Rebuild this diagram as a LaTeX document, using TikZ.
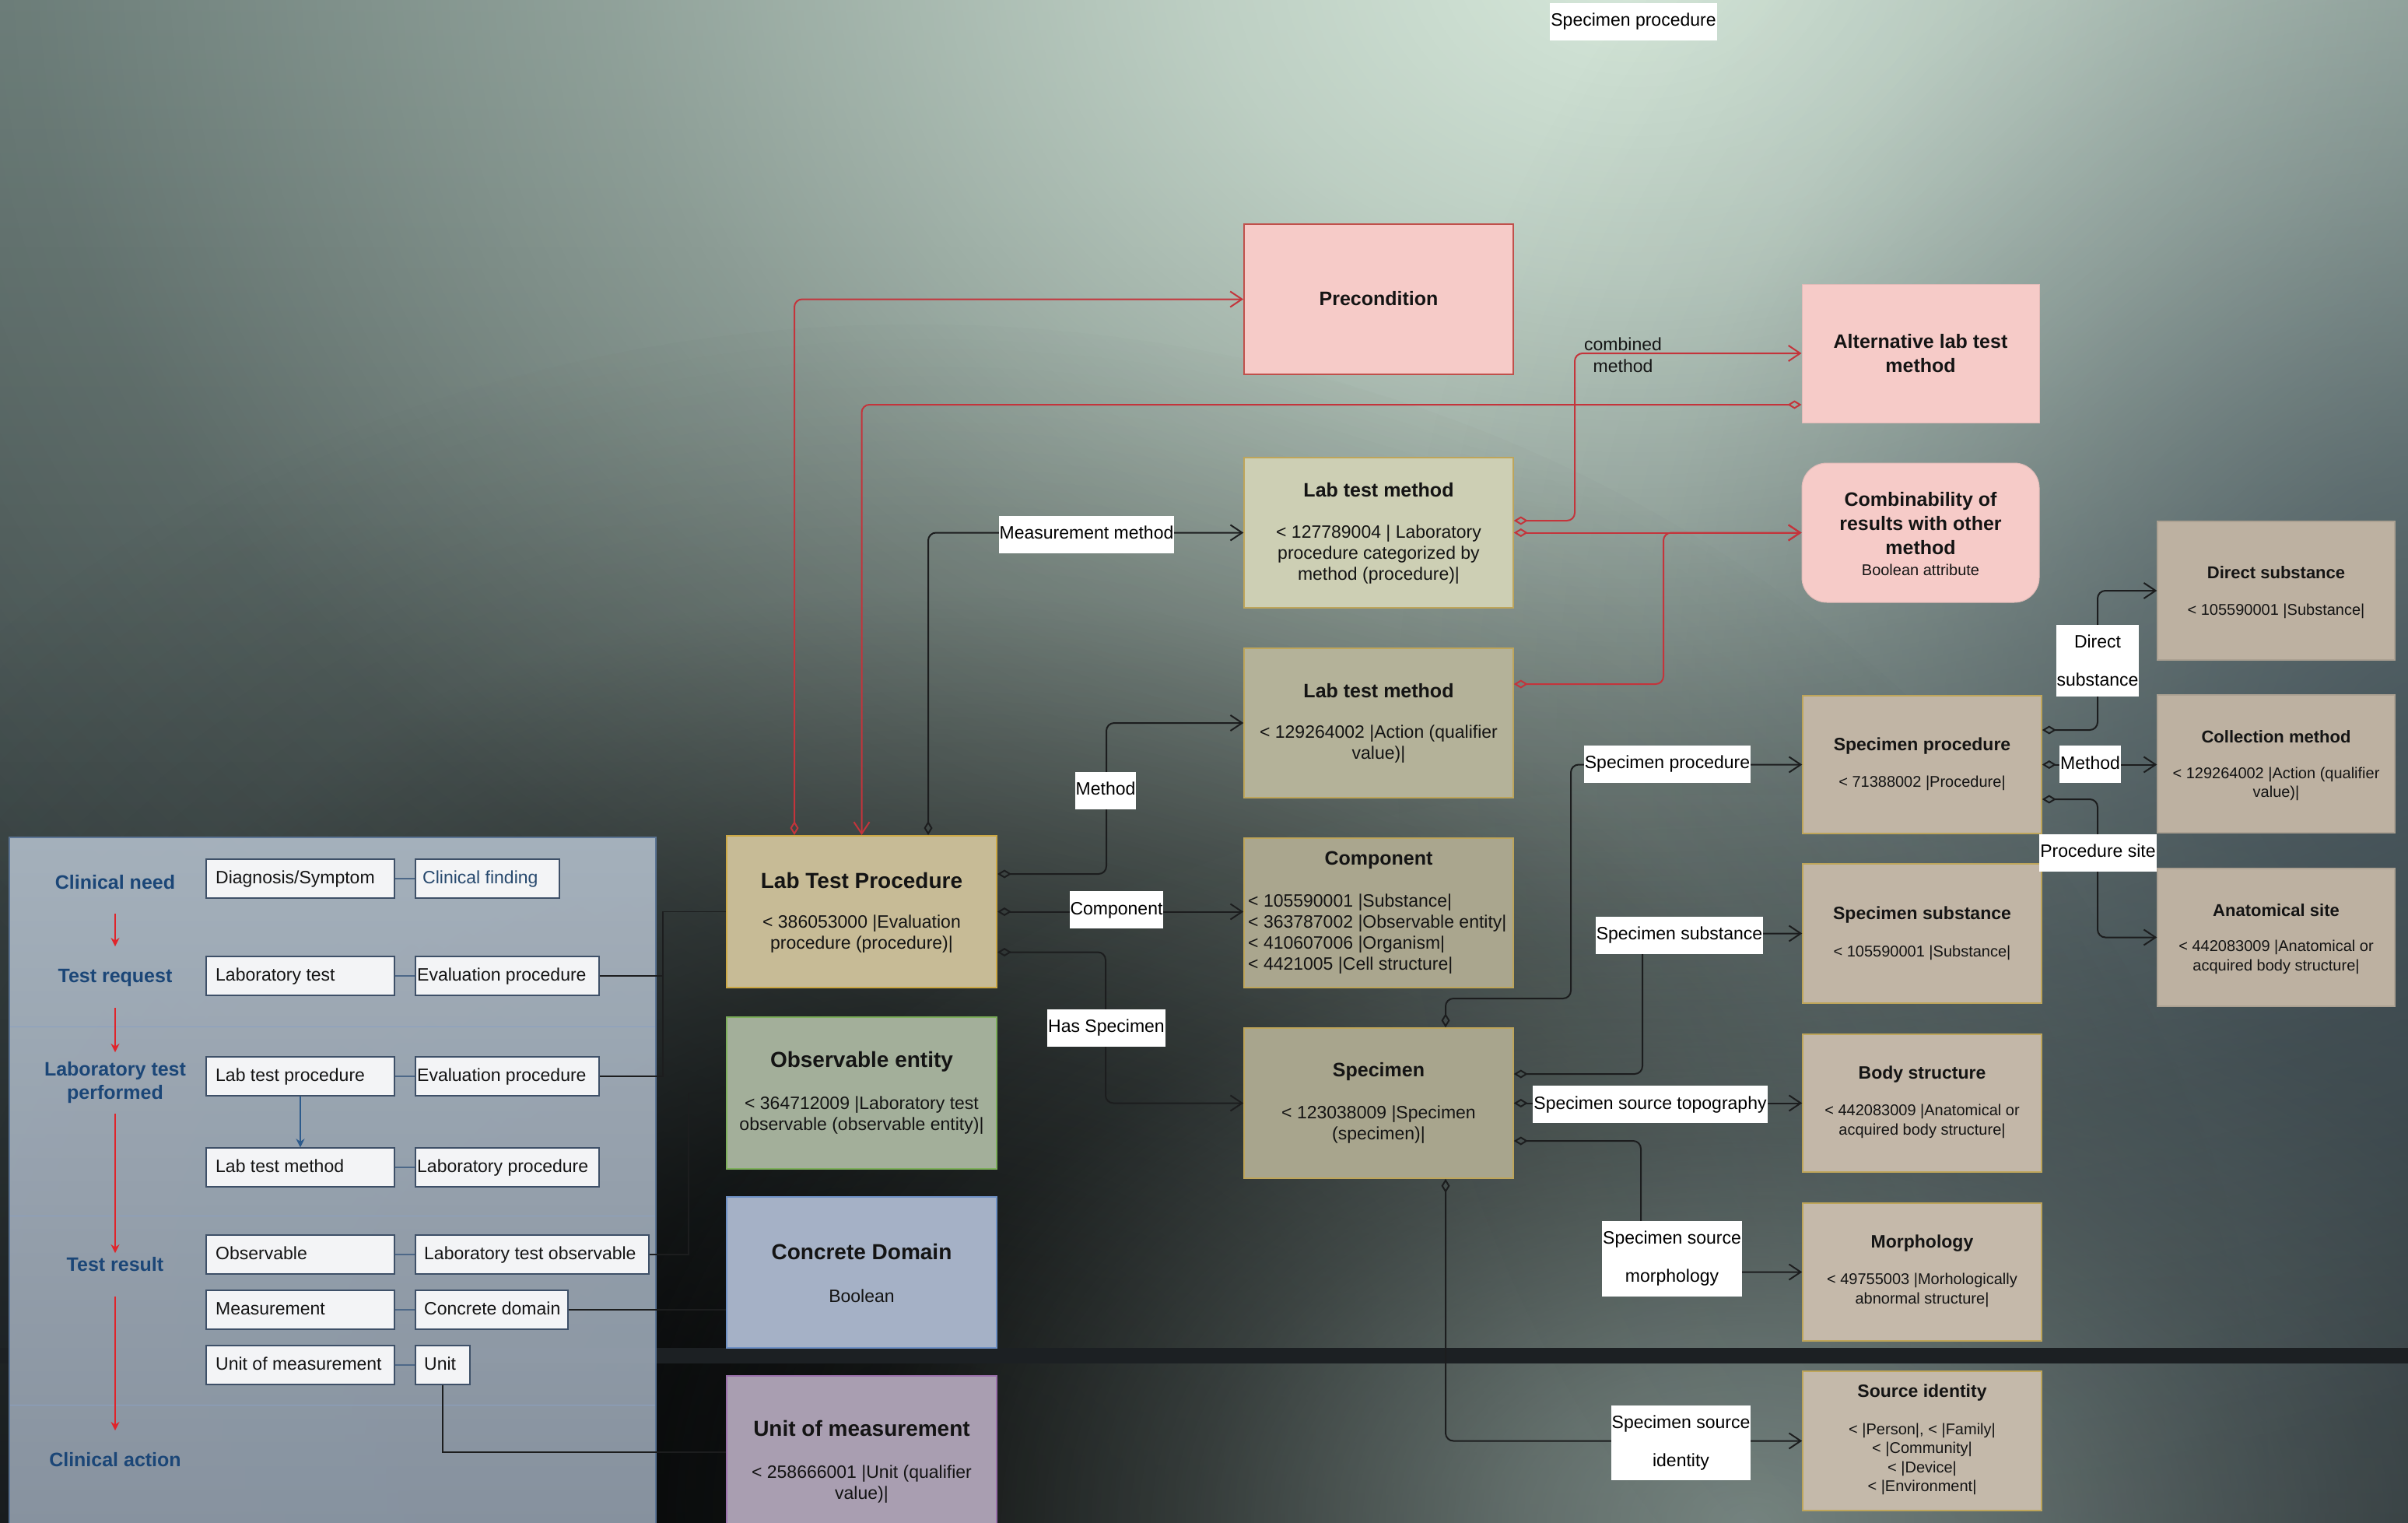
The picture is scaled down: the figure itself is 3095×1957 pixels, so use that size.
\documentclass[tikz,border=0pt]{standalone}
\usepackage{fontspec}
\setmainfont{Liberation Sans}
\usetikzlibrary{arrows.meta,fit,fadings}

% soft radial fade used for the background lighting
\pgfdeclareradialshading{glowshade}{\pgfpointorigin}{color(0bp)=(white); color(5bp)=(white!80!black); color(12bp)=(white!42!black); color(19bp)=(white!12!black); color(25bp)=(black); color(50bp)=(black)}
\pgfdeclarefading{glow}{\pgfuseshading{glowshade}}

\definecolor{bgtop}{HTML}{5F706D}
\definecolor{bgbot}{HTML}{1E2326}
\definecolor{mint}{HTML}{D6E8DA}
\definecolor{sage}{HTML}{8FA09A}
\definecolor{slate}{HTML}{34434F}
\definecolor{bandc}{HTML}{1C2023}
\definecolor{paneltop}{HTML}{AEBAC6}
\definecolor{panelbot}{HTML}{909CAA}
\definecolor{panelline}{HTML}{5B7494}
\definecolor{panelsep}{HTML}{8AA0C0}
\definecolor{lblblue}{HTML}{1B4677}
\definecolor{cfblue}{HTML}{27496E}
\definecolor{sboxfill}{HTML}{F3F4F6}
\definecolor{sboxline}{HTML}{3E5068}
\definecolor{pinc}{HTML}{4D6888}
\definecolor{redarr}{HTML}{E0242A}
\definecolor{navyarr}{HTML}{2D5B8C}
\definecolor{linkc}{HTML}{1C1D1E}
\definecolor{rlinkc}{HTML}{C4343B}
\definecolor{inkc}{HTML}{141414}
\definecolor{ltpfill}{HTML}{C7BB96}
\definecolor{ltpline}{HTML}{CCA845}
\definecolor{obsfill}{HTML}{A3AF9A}
\definecolor{obsline}{HTML}{7DAE5B}
\definecolor{cdfill}{HTML}{A5B1C6}
\definecolor{cdline}{HTML}{6E90C4}
\definecolor{uomfill}{HTML}{A99EB1}
\definecolor{uomline}{HTML}{9A70AA}
\definecolor{pinkfill}{HTML}{F6CBC8}
\definecolor{pinkline}{HTML}{C0504B}
\definecolor{tanline}{HTML}{BEA55A}
\definecolor{ltmAfill}{HTML}{CDCFB4}
\definecolor{ltmBfill}{HTML}{B4B299}
\definecolor{compfill}{HTML}{AAA68E}
\definecolor{specfill}{HTML}{A8A58D}
\definecolor{rcolfill}{HTML}{C1B5A5}
\definecolor{farfill}{HTML}{BDB1A1}
\definecolor{farline}{HTML}{ACA192}

\tikzset{
  lbl/.style={font=\fontsize{25pt}{30pt}\selectfont\bfseries, text=lblblue, align=center, inner sep=0pt},
  sbox/.style={draw=sboxline, fill=sboxfill, line width=1.5pt, inner sep=0pt},
  stext/.style={font=\fontsize{23pt}{27pt}\selectfont, text=inkc, inner sep=0pt, text height=17pt, text depth=5pt},
  ebox/.style={line width=2pt, inner sep=0pt},
  ltpbox/.style={ebox, draw=ltpline, fill=ltpfill},
  obsbox/.style={ebox, draw=obsline, fill=obsfill},
  cdbox/.style={ebox, draw=cdline, fill=cdfill},
  uombox/.style={ebox, draw=uomline, fill=uomfill},
  pinkbox/.style={ebox, draw=pinkline, fill=pinkfill},
  softpink/.style={ebox, draw=pinkfill!92!black, line width=1pt, fill=pinkfill},
  tanbox/.style={ebox, draw=tanline, line width=1.5pt},
  farbox/.style={ebox, draw=farline, line width=1.5pt, fill=farfill},
  ttlL/.style={font=\fontsize{28pt}{33pt}\selectfont\bfseries, text=inkc, inner sep=0pt, align=center},
  ttlM/.style={font=\fontsize{25pt}{31pt}\selectfont\bfseries, text=inkc, inner sep=0pt, align=center},
  ttlS/.style={font=\fontsize{23pt}{28pt}\selectfont\bfseries, text=inkc, inner sep=0pt, align=center},
  ttlXS/.style={font=\fontsize{22pt}{27pt}\selectfont\bfseries, text=inkc, inner sep=0pt, align=center},
  bdyM/.style={font=\fontsize{23pt}{27pt}\selectfont, text=inkc, inner sep=0pt, align=center},
  bdyS/.style={font=\fontsize{20pt}{24.5pt}\selectfont, text=inkc, inner sep=0pt, align=center},
  elbl/.style={fill=white, font=\fontsize{23pt}{27pt}\selectfont, text=black, inner xsep=1pt, inner ysep=13pt, text height=17pt, text depth=5pt},
  elbltwo/.style={fill=white, font=\fontsize{23pt}{49pt}\selectfont, text=black, inner xsep=1pt, inner ysep=13pt, align=center},
  blk/.style={draw=linkc, line width=2pt, rounded corners=10pt, {Diamond[open,length=18pt,width=11pt]}-{Straight Barb[length=15pt,width=20pt]}},
  rlk/.style={draw=rlinkc, line width=2pt, rounded corners=10pt, {Diamond[open,length=18pt,width=11pt]}-{Straight Barb[length=15pt,width=20pt]}},
  plk/.style={draw=linkc, line width=1.8pt},
  pin/.style={draw=pinc, line width=1.5pt},
  redflow/.style={draw=redarr, line width=1.5pt, -{Stealth[length=11pt,width=11pt]}},
  navyflow/.style={draw=navyarr, line width=1.5pt, -{Stealth[length=11pt,width=11pt]}},
}

\begin{document}
\begin{tikzpicture}[x=1pt, y=-1pt]
\useasboundingbox (0,0) rectangle (3095,1957);
\clip (0,0) rectangle (3095,1957);

% ---------- background lighting ----------
\shade[top color=bgtop, bottom color=bgbot] (0,0) rectangle (3095,1957);
\fill[mint, path fading=glow] (2100,-50) ellipse [x radius=2700pt, y radius=2000pt];
\fill[black, opacity=0.95, path fading=glow] (1200,1900) ellipse [x radius=1750pt, y radius=1500pt];
\fill[sage, opacity=0.8, path fading=glow] (2250,1957) ellipse [x radius=1500pt, y radius=1000pt];
\fill[slate, opacity=0.6, path fading=glow] (3095,950) ellipse [x radius=1300pt, y radius=1500pt];
\fill[bandc] (0,1732) rectangle (3095,1752);

% ---------- left swimlane panel ----------
\shade[top color=paneltop, bottom color=panelbot, opacity=0.92] (12,1076) rectangle (843,1990);
\draw[panelline, line width=1.5pt] (12,1990) -- (12,1076) -- (843,1076) -- (843,1990);
\foreach \yy in {1319,1562,1805} \draw[panelsep, line width=1pt] (13,\yy) -- (842,\yy);

\node[lbl] (cneed) at (148,1134) {Clinical need};
\node[lbl] (treq) at (148,1256) {Test request};
\node[lbl] (ltperf) at (148,1391) {Laboratory test\\performed};
\node[lbl] (tres) at (148,1625) {Test result};
\node[lbl] (cact) at (148,1876) {Clinical action};

\draw[redflow] ([yshift=-40pt]cneed.center) -- ([yshift=40pt]treq.center);
\draw[redflow] ([yshift=-39pt]treq.center) -- ([yshift=39pt]ltperf.center);
\draw[redflow] ([yshift=-40pt]ltperf.center) -- ([yshift=15pt]tres.center);
\draw[redflow] ([yshift=-41pt]tres.center) -- ([yshift=38pt]cact.center);

% first column of terms
\node[sbox, fit={(265,1104) (507,1154)}] (diag) {};
\node[sbox, fit={(265,1229) (507,1279)}] (labt) {};
\node[sbox, fit={(265,1358) (507,1408)}] (ltps) {};
\node[sbox, fit={(265,1475) (507,1525)}] (ltms) {};
\node[sbox, fit={(265,1587) (507,1637)}] (obsv) {};
\node[sbox, fit={(265,1658) (507,1708)}] (meas) {};
\node[sbox, fit={(265,1729) (507,1779)}] (uoms) {};
\node[stext, anchor=west] (diag-t) at (277,1129) {Diagnosis/Symptom};
\node[stext, anchor=west] (labt-t) at (277,1254) {Laboratory test};
\node[stext, anchor=west] (ltps-t) at (277,1383) {Lab test procedure};
\node[stext, anchor=west] (ltms-t) at (277,1500) {Lab test method};
\node[stext, anchor=west] (obsv-t) at (277,1612) {Observable};
\node[stext, anchor=west] (meas-t) at (277,1683) {Measurement};
\node[stext, anchor=west] (uoms-t) at (277,1754) {Unit of measurement};

% second column of terms
\node[sbox, fit={(534,1104) (719,1154)}] (cfind) {};
\node[sbox, fit={(534,1229) (770,1279)}] (ev2) {};
\node[sbox, fit={(534,1358) (770,1408)}] (ev3) {};
\node[sbox, fit={(534,1475) (770,1525)}] (labp) {};
\node[sbox, fit={(534,1587) (834,1637)}] (lto) {};
\node[sbox, fit={(534,1658) (730,1708)}] (cdom) {};
\node[sbox, fit={(534,1729) (604,1779)}] (unit) {};
\node[stext, anchor=west, text=cfblue] (cfind-t) at (543,1129) {Clinical finding};
\node[stext, anchor=west] (ev2-t) at (536,1254) {Evaluation procedure};
\node[stext, anchor=west] (ev3-t) at (536,1383) {Evaluation procedure};
\node[stext, anchor=west] (labp-t) at (536,1500) {Laboratory procedure};
\node[stext, anchor=west] (lto-t) at (545,1612) {Laboratory test observable};
\node[stext, anchor=west] (cdom-t) at (545,1683) {Concrete domain};
\node[stext, anchor=west] (unit-t) at (545,1754) {Unit};

\draw[pin] (diag.east) -- (cfind.west);
\draw[pin] (labt.east) -- (ev2.west);
\draw[pin] (ltps.east) -- (ev3.west);
\draw[pin] (ltms.east) -- (labp.west);
\draw[pin] (obsv.east) -- (lto.west);
\draw[pin] (meas.east) -- (cdom.west);
\draw[pin] (uoms.east) -- (unit.west);
\draw[navyflow] (ltps.south) -- (ltms.north);

% ---------- concept boxes ----------
\node[ltpbox, fit={(934,1074) (1281,1269)}] (ltp) {};
\node[obsbox, fit={(934,1307) (1281,1502)}] (obs) {};
\node[cdbox, fit={(934,1538) (1281,1732)}] (cdbx) {};
\node[uombox, fit={(934,1768) (1281,1990)}] (uom) {};

\node[pinkbox, fit={(1599,288) (1945,481)}] (precond) {};
\node[tanbox, fill=ltmAfill, fit={(1599,588) (1945,781)}] (ltm1) {};
\node[tanbox, fill=ltmBfill, fit={(1599,833) (1945,1025)}] (ltm2) {};
\node[tanbox, fill=compfill, fit={(1599,1077) (1945,1269)}] (comp) {};
\node[tanbox, fill=specfill, fit={(1599,1321) (1945,1514)}] (spec) {};

\node[softpink, fit={(2316,365) (2621,543)}] (alt) {};
\node[softpink, rounded corners=32pt, fit={(2316,595) (2621,774)}] (comb) {};
\node[tanbox, fill=rcolfill, fit={(2317,894) (2624,1071)}] (sproc) {};
\node[tanbox, fill=rcolfill, fit={(2317,1110) (2624,1289)}] (ssub) {};
\node[tanbox, fill=rcolfill!97!white, fit={(2317,1329) (2624,1506)}] (bstr) {};
\node[tanbox, fill=rcolfill!94!white, fit={(2317,1546) (2624,1723)}] (morph) {};
\node[tanbox, fill=rcolfill!95!white, fit={(2317,1762) (2624,1941)}] (srcid) {};

\node[farbox, fit={(2773,670) (3078,848)}] (dsub) {};
\node[farbox, fit={(2773,893) (3078,1070)}] (coll) {};
\node[farbox, fit={(2773,1116) (3078,1293)}] (anat) {};

% titles and descriptions
\node[ttlL] (ltp-t) at (1107.5,1131) {Lab Test Procedure};
\node[bdyM] (ltp-b) at (1107.5,1200.5) {< 386053000 |Evaluation\\procedure (procedure)|};
\node[ttlL] (obs-t) at (1107.5,1364) {Observable entity};
\node[bdyM] (obs-b) at (1107.5,1433.5) {< 364712009 |Laboratory test\\observable (observable entity)|};
\node[ttlL] (cdbx-t) at (1107.5,1608) {Concrete Domain};
\node[bdyM] (cdbx-b) at (1107.5,1665) {Boolean};
\node[ttlL] (uom-t) at (1107.5,1835) {Unit of measurement};
\node[bdyM] (uom-b) at (1107.5,1907) {< 258666001 |Unit (qualifier\\value)|};

\node[ttlM] (precond-t) at (1772,384) {Precondition};
\node[ttlM] (ltm1-t) at (1772,630) {Lab test method};
\node[bdyM] (ltm1-b) at (1772,713) {< 127789004 | Laboratory\\procedure categorized by\\method (procedure)|};
\node[ttlM] (ltm2-t) at (1772,888) {Lab test method};
\node[bdyM] (ltm2-b) at (1772,956.5) {< 129264002 |Action (qualifier\\value)|};
\node[ttlM] (comp-t) at (1772,1105) {Component};
\node[bdyM, align=left, anchor=west] (comp-b) at (1604,1200) {< 105590001 |Substance|\\< 363787002 |Observable entity|\\< 410607006 |Organism|\\< 4421005 |Cell structure|};
\node[ttlM] (spec-t) at (1772,1377) {Specimen};
\node[bdyM] (spec-b) at (1772,1445.5) {< 123038009 |Specimen\\(specimen)|};

\node[ttlM] (alt-t) at (2468.5,454) {Alternative lab test\\method};
\node[ttlM] (comb-t) at (2468.5,672.5) {Combinability of\\results with other\\method};
\node[bdyS] (comb-b) at (2468.5,732) {Boolean attribute};

\node[ttlS] (sproc-t) at (2470.5,959) {Specimen procedure};
\node[bdyS] (sproc-b) at (2470.5,1006) {< 71388002 |Procedure|};
\node[ttlS] (ssub-t) at (2470.5,1176) {Specimen substance};
\node[bdyS] (ssub-b) at (2470.5,1224) {< 105590001 |Substance|};
\node[ttlS] (bstr-t) at (2470.5,1381) {Body structure};
\node[bdyS] (bstr-b) at (2470.5,1441) {< 442083009 |Anatomical or\\acquired body structure|};
\node[ttlS] (morph-t) at (2470.5,1598) {Morphology};
\node[bdyS] (morph-b) at (2470.5,1658) {< 49755003 |Morhologically\\abnormal structure|};
\node[ttlS] (srcid-t) at (2470.5,1790) {Source identity};
\node[bdyS] (srcid-b) at (2470.5,1875) {< |Person|, < |Family|\\< |Community|\\< |Device|\\< |Environment|};

\node[ttlXS] (dsub-t) at (2925.5,736) {Direct substance};
\node[bdyS] (dsub-b) at (2925.5,785) {< 105590001 |Substance|};
\node[ttlXS] (coll-t) at (2925.5,947) {Collection method};
\node[bdyS] (coll-b) at (2925.5,1007.5) {< 129264002 |Action (qualifier\\value)|};
\node[ttlXS] (anat-t) at (2925.5,1170) {Anatomical site};
\node[bdyS] (anat-b) at (2925.5,1230) {< 442083009 |Anatomical or\\acquired body structure|};

% ---------- links from the panel ----------
\draw[plk] (ev2.east) -- (852,1254) |- (ltp.west);
\draw[plk] (ev3.east) -- (852,1383) -- (852,1254);
\draw[plk] (lto.east) -- (885,1612) |- (obs.west);
\draw[plk] (cdom.east) -- (cdbx.west |- cdom.east);
\draw[plk] (unit.south) |- ([yshift=13pt]uom.west);

% ---------- attribute relationships ----------
\draw[blk] ([xshift=85.5pt]ltp.north) |- (ltm1.west);
\draw[blk] ([yshift=48.5pt]ltp.east) -- (1422,1123) |- (ltm2.west);
\draw[blk] (ltp.east) -- (comp.west |- ltp.east);
\draw[blk] ([yshift=-52pt]ltp.east) -- (1421,1223.5) |- (spec.west);
\draw[blk] ([xshift=86pt]spec.north) |- (2019,1283) |- (sproc.west);
\draw[blk] ([yshift=37.5pt]spec.east) -- (2111,1380) |- (ssub.west);
\draw[blk] (spec.east) -- (bstr.west);
\draw[blk] ([yshift=-48.5pt]spec.east) -- (2109,1466) |- (morph.west);
\draw[blk] ([xshift=86pt]spec.south) |- (srcid.west);
\draw[blk] ([yshift=44.5pt]sproc.east) -- (2696,938) |- (dsub.west);
\draw[blk] (sproc.east) -- (coll.west |- sproc.east);
\draw[blk] ([yshift=-44.5pt]sproc.east) -- (2696,1027) |- (anat.west);

\draw[rlk] ([xshift=-86.5pt]ltp.north) |- (precond.west);
\draw[rlk] ([yshift=-66pt]alt.west) -| (ltp.north);
\draw[rlk] ([yshift=15.5pt]ltm1.east) -- (2024,669) |- (alt.west);
\draw[rlk] (ltm1.east) -- (comb.west);
\draw[rlk] ([yshift=50pt]ltm2.east) -- (2138,879) |- (comb.west);

% ---------- relationship labels ----------
\node[elbl] (l-meas) at (1396.5,686.5) {Measurement method};
\node[elbl] (l-meth) at (1421,1015.5) {Method};
\node[elbl] (l-comp) at (1435,1169) {Component};
\node[elbl] (l-hasspec) at (1422,1320.5) {Has Specimen};
\node[elbl] (l-sproc) at (2143,981.5) {Specimen procedure};
\node[elbl] (l-ssub) at (2158.5,1201.5) {Specimen substance};
\node[elbl] (l-topo) at (2121,1419) {Specimen source topography};
\node[elbltwo] (l-morph) at (2149,1617.5) {Specimen source\\morphology};
\node[elbltwo] (l-ident) at (2160.5,1854) {Specimen source\\identity};
\node[elbltwo] (l-dsub) at (2696,849) {Direct\\substance};
\node[elbl] (l-cmeth) at (2686.5,982) {Method};
\node[elbl] (l-psite) at (2696.5,1095.5) {Procedure site};
\node[elbl] (l-top) at (2099.5,27.5) {Specimen procedure};
\node[font=\fontsize{23pt}{28pt}\selectfont, text=inkc, align=center, inner sep=0pt] (l-combined) at (2086,456) {combined\\method};

\end{tikzpicture}
\end{document}
